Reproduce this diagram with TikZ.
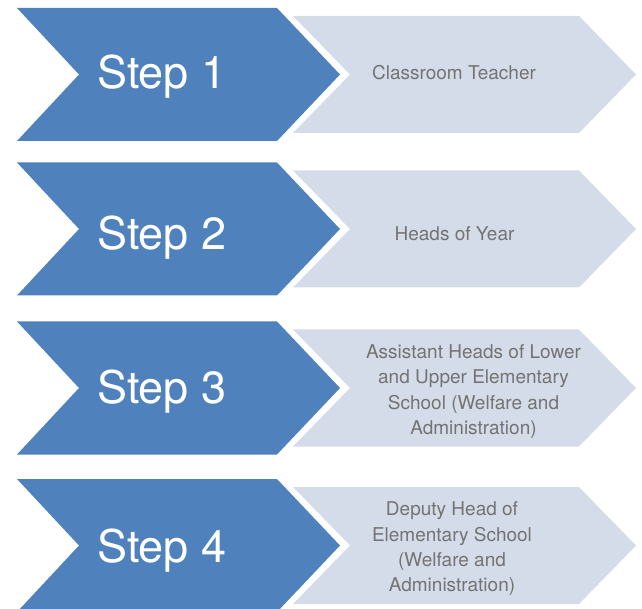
\documentclass[tikz,border=0pt]{standalone}
\usepackage{fontspec}
\setmainfont{TeX Gyre Heros}
\definecolor{darkblue}{HTML}{4F81BD}
\definecolor{lightblue}{HTML}{D5DCE9}
\definecolor{textgray}{HTML}{737373}
\tikzset{
  darkchev/.style={fill=darkblue},
  lightchev/.style={fill=lightblue},
  steplabel/.style={text=white, font=\fontsize{45}{54}\selectfont, anchor=base west, inner sep=0pt},
  desc/.style={text=textgray, font=\fontsize{19}{25.3}\selectfont, align=center, inner sep=0pt}
}
\newcommand{\chevrows}[1]{%
  \fill[darkchev] (17,#1-66.5) -- (277,#1-66.5) -- (340,#1) -- (277,#1+66.5) -- (17,#1+66.5) -- (79,#1) -- cycle;
  \fill[lightchev] (293,#1-58.5) -- (579,#1-58.5) -- (636,#1) -- (579,#1+58.5) -- (293,#1+58.5) -- (350,#1) -- cycle;
}
\begin{document}
\begin{tikzpicture}[x=1pt,y=-1pt]
\useasboundingbox (0,0) rectangle (642,609);
\clip (0,0) rectangle (642,609);
\chevrows{74.5}
\chevrows{229}
\chevrows{388}
\chevrows{545.5}
\node[steplabel] (s1) at (97,89) {Step 1};
\node[steplabel] (s2) at (97,250) {Step 2};
\node[steplabel] (s3) at (97,403) {Step 3};
\node[steplabel] (s4) at (97,562) {Step 4};
\node[desc, anchor=base] (d1) at (454,80) {Classroom Teacher};
\node[desc, anchor=base] (d2) at (454.5,240.7) {Heads of Year};
\node[desc] (d3) at (473.5,391.5) {Assistant Heads of Lower\\and Upper Elementary\\School (Welfare and\\Administration)};
\node[desc] (d4) at (452,549) {Deputy Head of\\Elementary School\\(Welfare and\\Administration)};
\end{tikzpicture}
\end{document}
